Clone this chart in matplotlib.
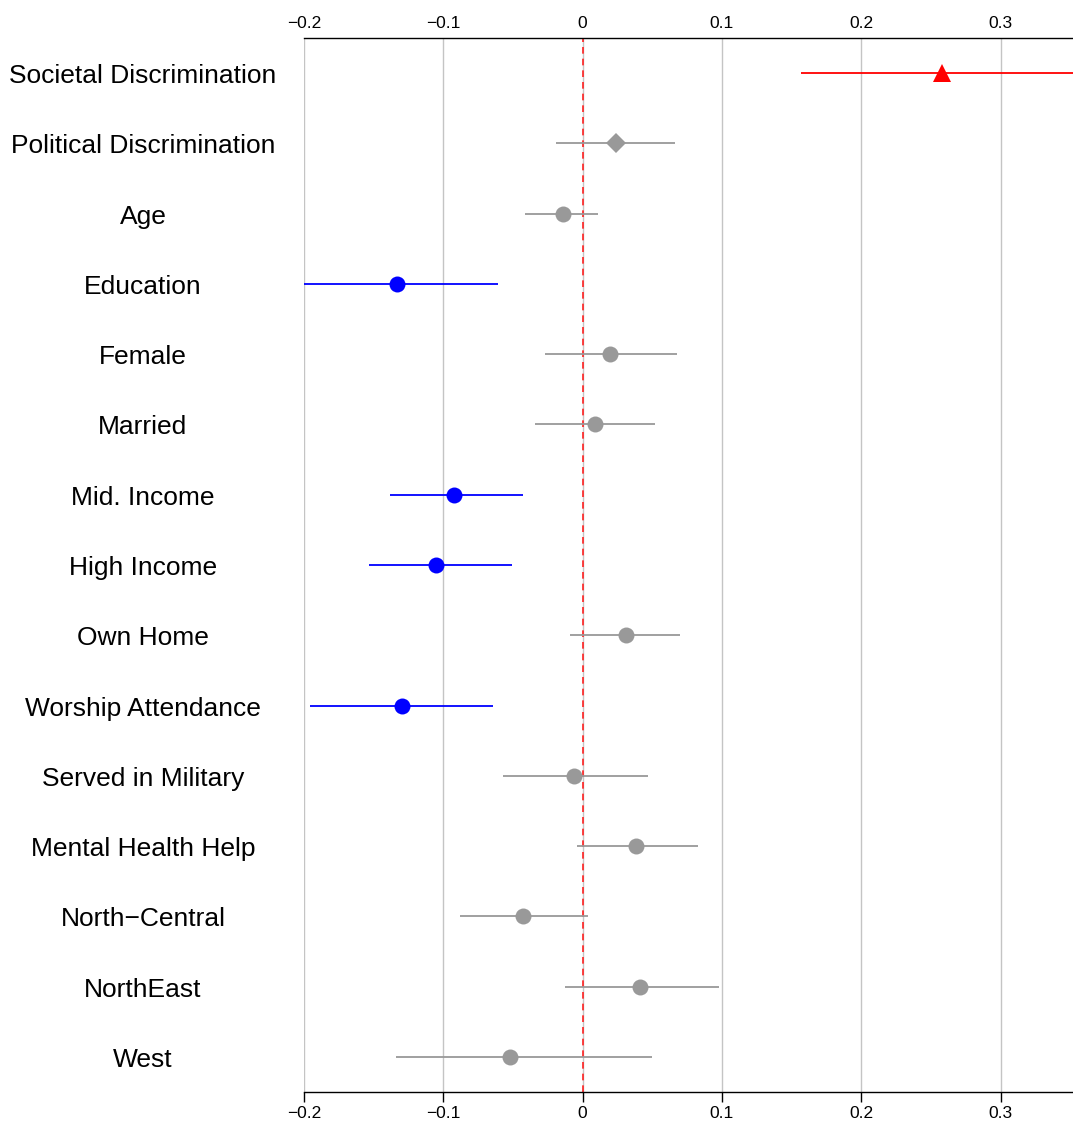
import matplotlib
matplotlib.use("Agg")
import matplotlib.pyplot as plt
import matplotlib.transforms as mtransforms

plt.rcParams["font.family"] = ["Liberation Sans", "DejaVu Sans"]

labels = ["Societal Discrimination", "Political Discrimination", "Age", "Education",
          "Female", "Married", "Mid. Income", "High Income", "Own Home",
          "Worship Attendance", "Served in Military", "Mental Health Help",
          "North\u2212Central", "NorthEast", "West"]
estimates = [0.258, 0.024, -0.014, -0.133, 0.020, 0.009, -0.092, -0.105, 0.031,
             -0.130, -0.006, 0.038, -0.043, 0.041, -0.052]
lower = [0.157, -0.019, -0.041, -0.205, -0.027, -0.034, -0.138, -0.153, -0.009,
         -0.196, -0.057, -0.004, -0.088, -0.013, -0.134]
upper = [0.360, 0.066, 0.011, -0.061, 0.068, 0.052, -0.043, -0.051, 0.070,
         -0.064, 0.047, 0.083, 0.004, 0.098, 0.050]
colors = ["#ff0000", "#999999", "#999999", "#0000ff", "#999999", "#999999",
          "#0000ff", "#0000ff", "#999999", "#0000ff", "#999999", "#999999",
          "#999999", "#999999", "#999999"]
markers = ["^", "D", "o", "o", "o", "o", "o", "o", "o", "o", "o", "o", "o", "o", "o"]
ticks = [-0.2, -0.1, 0, 0.1, 0.2, 0.3]
tick_labels = ["\u22120.2", "\u22120.1", "0", "0.1", "0.2", "0.3"]

fig = plt.figure(figsize=(10.73, 11.29), dpi=100)
ax = fig.add_axes([0.2833, 0.0328, 0.7167, 0.9335])

for i, (est, lo, hi, c, m) in enumerate(zip(estimates, lower, upper, colors, markers)):
    ax.plot([lo, hi], [i, i], color=c, lw=1.3, zorder=3, solid_capstyle="butt")
    ms = {"^": 13, "D": 10, "o": 11.5}[m]
    ax.plot(est, i, marker=m, color=c, markersize=ms, markeredgewidth=0, zorder=4)

for t in ticks:
    ax.axvline(t, color="#c4c4c4", lw=1.0, zorder=1)
ax.axvline(0, color="#ff2020", lw=1.2, ls=(0, (4, 3)), zorder=2)

ax.set_xlim(-0.2, 0.352)
ax.set_ylim(len(labels) - 0.5, -0.5)
ax.set_yticks([])
for side in ["left", "right"]:
    ax.spines[side].set_visible(False)
ax.spines["top"].set_linewidth(1.0)
ax.spines["bottom"].set_linewidth(1.0)

# bottom axis: outward ticks with labels
ax.set_xticks(ticks)
ax.set_xticklabels(tick_labels, fontsize=12.5)
ax.tick_params(axis="x", bottom=True, top=False, direction="out",
               length=7, width=1.0, pad=3)

# top axis: labels only, no tick marks (main axes already draws the spine)
top = ax.secondary_xaxis("top")
top.set_xticks(ticks)
top.set_xticklabels(tick_labels, fontsize=12.5)
top.tick_params(axis="x", length=0, pad=5)
top.spines["top"].set_visible(False)

# row labels centred in the left margin
trans = mtransforms.blended_transform_factory(fig.transFigure, ax.transData)
trans = mtransforms.offset_copy(trans, fig=fig, y=-3, units="dots")
for i, lab in enumerate(labels):
    ax.text(143 / 1073, i, lab, ha="center", va="center", fontsize=19,
            transform=trans, clip_on=False)

fig.savefig("out.png", dpi=100, facecolor="white")
